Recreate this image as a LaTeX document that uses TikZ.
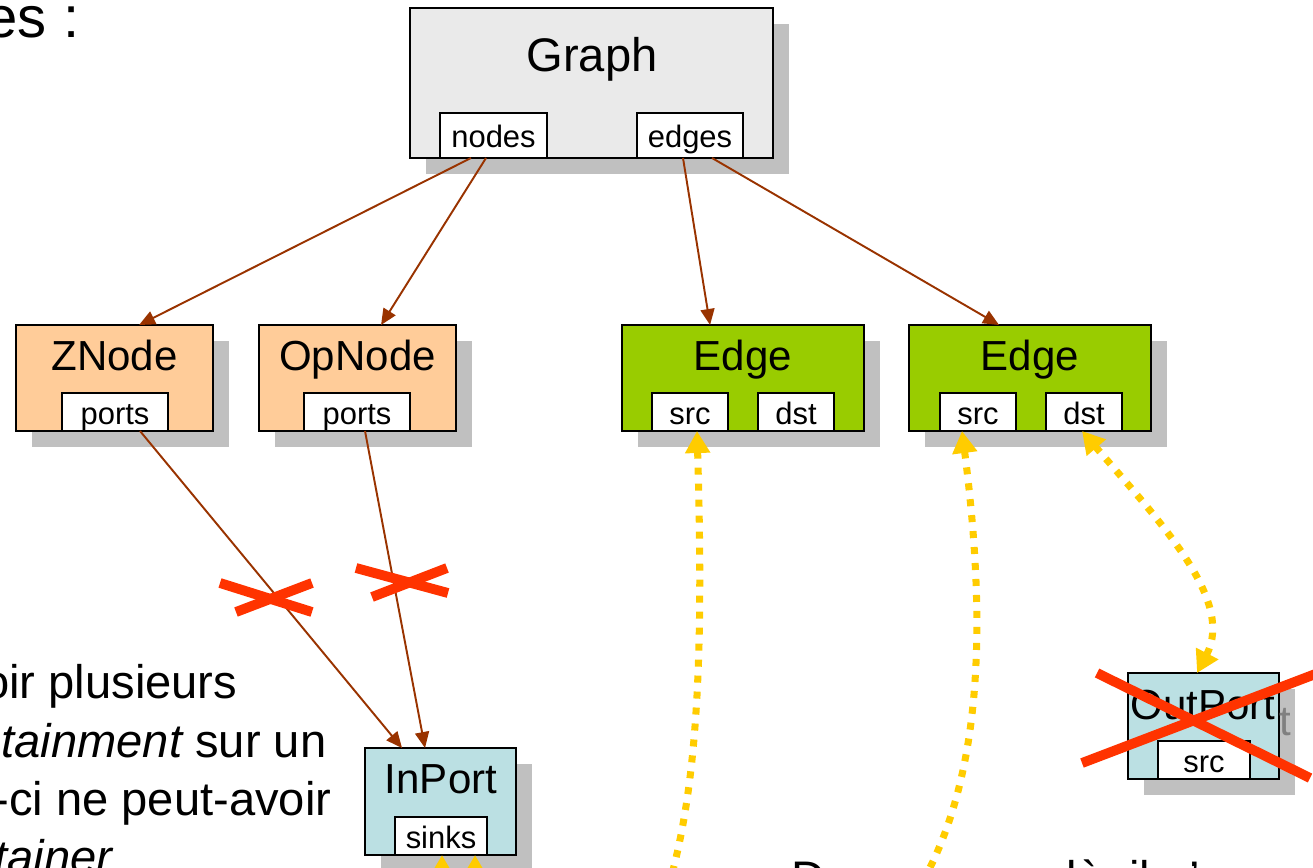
\documentclass[tikz,border=0pt]{standalone}
\usepackage{fontspec}
\setmainfont{Liberation Sans}
\usetikzlibrary{arrows.meta,shadows,calc}

\definecolor{graphfill}{HTML}{EAEAEA}
\definecolor{nodefill}{HTML}{FFCC99}
\definecolor{edgefill}{HTML}{99CC00}
\definecolor{portfill}{HTML}{BBE0E3}
\definecolor{shadowgray}{HTML}{C0C0C0}
\definecolor{linkbrown}{HTML}{993300}
\definecolor{crossred}{HTML}{FF3300}
\definecolor{refyellow}{HTML}{FFCC00}
\definecolor{textgray}{HTML}{808080}

\tikzset{
  classbox/.style={draw=black, line width=0.6pt, inner sep=0pt, outer sep=0pt, anchor=north west,
    drop shadow={shadow xshift=0.16cm, shadow yshift=-0.16cm, fill=shadowgray, opacity=1}},
  slot/.style={draw=black, fill=white, line width=0.6pt, inner sep=0pt, outer sep=0pt, anchor=south,
    minimum height=0.38cm, font=\fontsize{8.8pt}{10pt}\selectfont, text height=0.75em, text depth=0.05em},
  classname/.style={inner sep=0pt, anchor=base, font=\fontsize{11.95pt}{14pt}\selectfont},
  contain/.style={draw=linkbrown, line width=0.55pt, -{Triangle[width=0.14cm,length=0.16cm]}},
  reflink/.style={draw=refyellow, line width=2pt, dash pattern=on 2pt off 2.55pt,
    {Triangle[width=0.24cm,length=0.22cm]}-{Triangle[width=0.24cm,length=0.22cm]}},
  cross/.style={draw=crossred, line width=2.8pt},
  prose/.style={inner sep=0pt, font=\fontsize{13.4pt}{16pt}\selectfont},
}

\begin{document}
\begin{tikzpicture}[x=0.01cm, y=-0.01cm]
\useasboundingbox (0,0) rectangle (1313,867);
\clip (0,0) rectangle (1313,867);

% side texts
\node[prose, anchor=base east, font=\fontsize{16.5pt}{20pt}\selectfont] (heading) at (80,38) {Contraintes :};
\node[prose, anchor=base east] (rule1) at (238,698) {avoir plusieurs};
\node[prose, anchor=base east] (rule2) at (327,757) {{\itshape containment} sur un};
\node[prose, anchor=base east] (rule3) at (332,815) {celui-ci ne peut-avoir};
\node[prose, anchor=base east] (rule4) at (113,873) {{\itshape container}};
\node[prose, anchor=base west] (note) at (791,894) {Dans ce cas-là, il n'y a};

% Graph
\node[classbox, fill=graphfill, minimum width=3.63cm, minimum height=1.50cm] (graph) at (410,8) {};
\node[classname, font=\fontsize{13.4pt}{16pt}\selectfont] (graphname) at (592,72) {Graph};
\node[slot, minimum width=1.07cm, minimum height=0.45cm] (gnodes) at (493.5,158) {nodes};
\node[slot, minimum width=1.06cm, minimum height=0.45cm] (gedges) at (690,158) {edges};

% ZNode and OpNode
\node[classbox, fill=nodefill, minimum width=1.97cm, minimum height=1.06cm] (znode) at (16,325) {};
\node[classname] (znodename) at (114.5,370) {ZNode};
\node[slot, minimum width=1.06cm] (zports) at (115,431) {ports};

\node[classbox, fill=nodefill, minimum width=1.97cm, minimum height=1.06cm] (opnode) at (259,325) {};
\node[classname] (opnodename) at (357.5,370) {OpNode};
\node[slot, minimum width=1.06cm] (opports) at (357,431) {ports};

% Edges
\node[classbox, fill=edgefill, minimum width=2.42cm, minimum height=1.06cm] (edgeA) at (622,325) {};
\node[classname] (edgeAname) at (743,370) {Edge};
\node[slot, minimum width=0.76cm] (edgeAsrc) at (690,431) {src};
\node[slot, minimum width=0.76cm] (edgeAdst) at (796,431) {dst};

\node[classbox, fill=edgefill, minimum width=2.42cm, minimum height=1.06cm] (edgeB) at (909,325) {};
\node[classname] (edgeBname) at (1030,370) {Edge};
\node[slot, minimum width=0.76cm] (edgeBsrc) at (978,431) {src};
\node[slot, minimum width=0.76cm] (edgeBdst) at (1084,431) {dst};

% InPort
\node[classbox, fill=portfill, minimum width=1.51cm, minimum height=1.07cm] (inport) at (365,748) {};
\node[classname] (inportname) at (441,793) {InPort};
\node[slot, minimum width=0.92cm] (sinks) at (441,855) {sinks};

% OutPort
\node[classbox, fill=portfill, minimum width=1.51cm, minimum height=1.06cm] (outport) at (1128,673) {};
\node[classname] (outportname) at (1203,719) {OutPort};
\node[slot, minimum width=0.92cm] (outsrc) at (1204,779) {src};
\begin{scope}
  \clip (outport.north east) rectangle ($(outport.south east)+(40,40)$);
  \node[classname, text=textgray] (outportecho) at ($(outportname.base)+(16,16)$) {OutPort};
\end{scope}

% containment links
\draw[contain] ([xshift=-0.225cm]gnodes.south) -- ([xshift=0.245cm]znode.north);
\draw[contain] ([xshift=-0.075cm]gnodes.south) -- ([xshift=0.235cm]opnode.north);
\draw[contain] ([xshift=-0.07cm]gedges.south) -- ([xshift=-0.33cm]edgeA.north);
\draw[contain] ([xshift=0.22cm]gedges.south) -- ([xshift=-0.31cm]edgeB.north);
\draw[contain] ([xshift=0.25cm]zports.south) -- ([xshift=-0.385cm]inport.north);
\draw[contain] ([xshift=0.08cm]opports.south) -- ([xshift=-0.155cm]inport.north);

% references between ports and edges
\draw[reflink] ([xshift=0.07cm]edgeAsrc.south) .. controls (705,700) and (695,850) .. (640,960)
  .. controls (585,1070) and (475,1000) .. ([xshift=0.34cm]sinks.south);
\draw[reflink] ([xshift=-0.16cm]edgeBsrc.south) .. controls (990,650) and (985,850) .. (860,960)
  .. controls (735,1070) and (442,1010) .. ([xshift=0.01cm]sinks.south);
\draw[reflink] ([xshift=-0.02cm]edgeBdst.south) .. controls (1160,522) and (1235,600) .. ([xshift=-0.065cm]outport.north);

% forbidden links
\draw[cross] (220,583) -- (312,612);
\draw[cross] (236,612) -- (312,583);
\draw[cross] (356,568) -- (448,593);
\draw[cross] (372,597) -- (447,568);
\draw[cross] (1097,673) -- (1310,778);
\draw[cross] (1082,763) -- (1318,673);
\end{tikzpicture}
\end{document}
